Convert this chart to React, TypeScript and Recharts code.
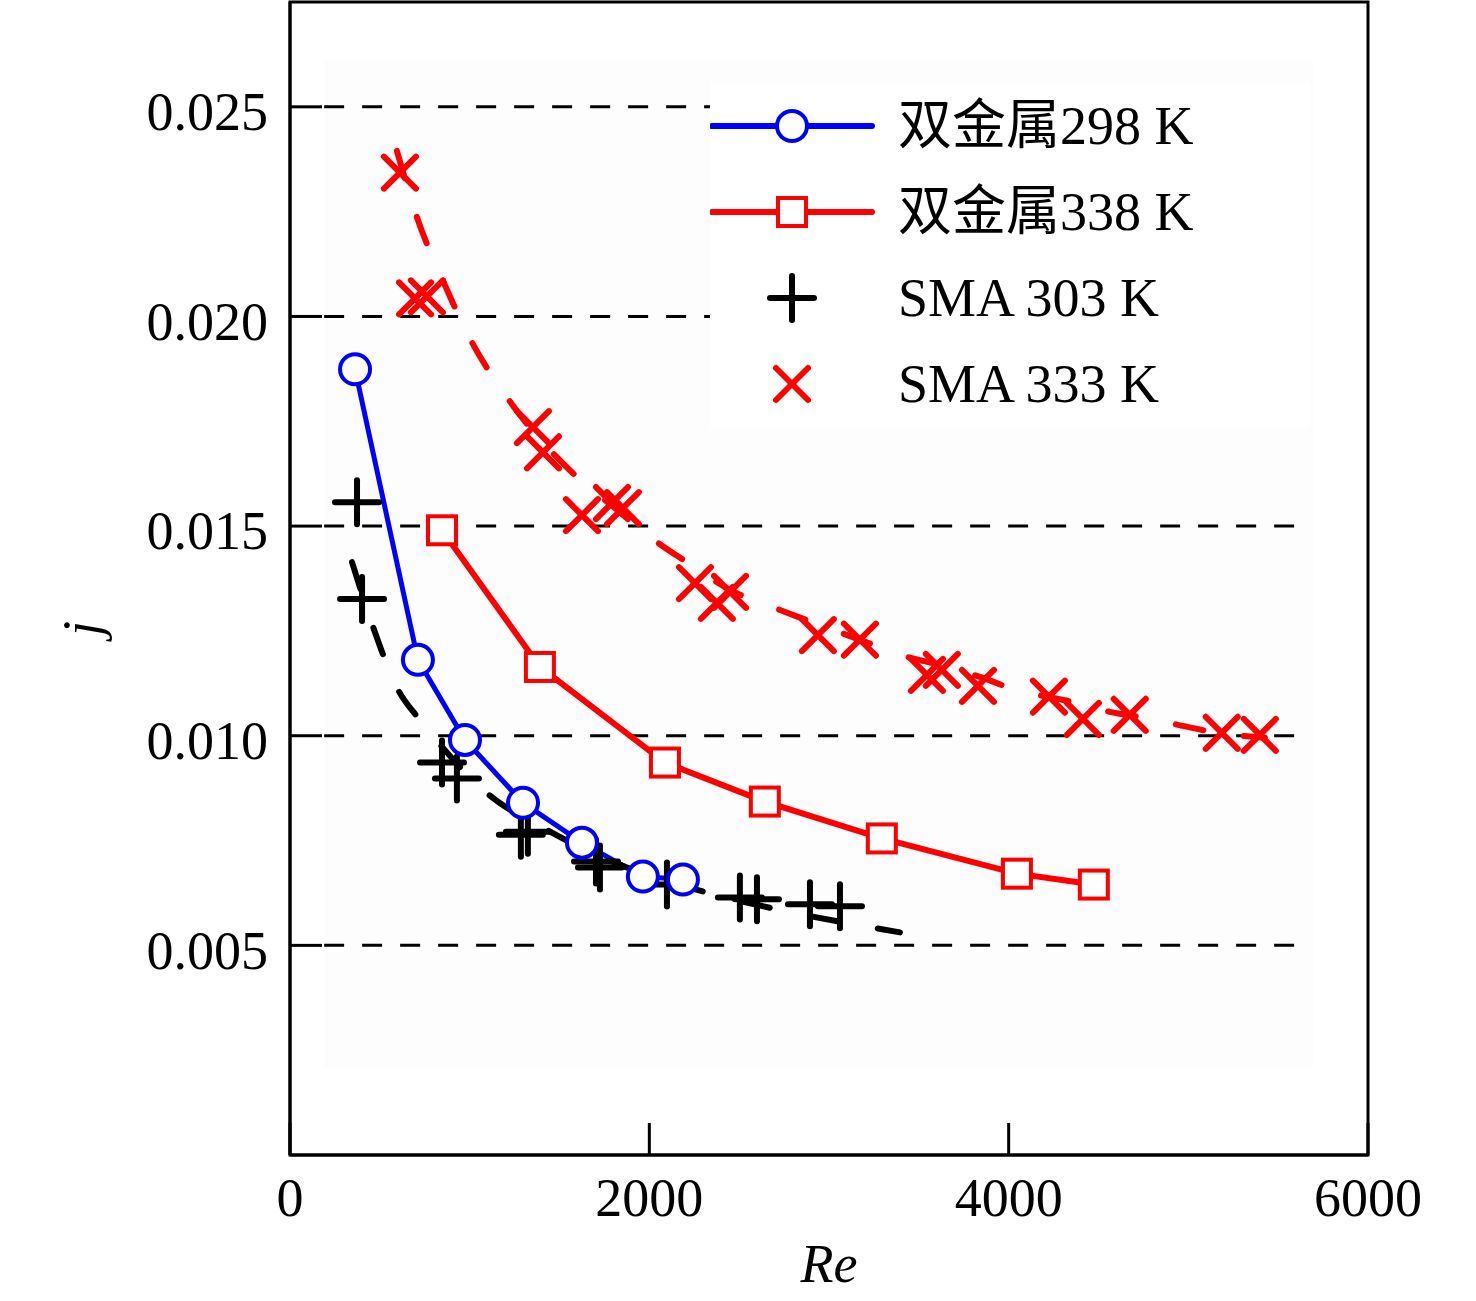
import React from "react";
import {
  ComposedChart,
  Line,
  Scatter,
  XAxis,
  YAxis,
  ReferenceLine,
  ReferenceArea,
  Legend,
  Label,
} from "recharts";

// 双金属 298 K (blue circles, solid line)
const bi298Re = [362, 712, 974, 1297, 1625, 1964, 2187];
const bi298J = [0.01874, 0.01181, 0.0099, 0.0084, 0.00745, 0.00664, 0.00657];

// 双金属 338 K (red squares, solid line)
const bi338Re = [846, 1391, 2087, 2643, 3294, 4046, 4474];
const bi338J = [0.0149, 0.01164, 0.00936, 0.00843, 0.00755, 0.00671, 0.00645];

// SMA 303 K (black plus markers)
const sma303Re = [373, 401, 846, 929, 1285, 1324, 1703, 1725, 2098, 2504, 2599, 2894, 3061];
const sma303J = [0.01557, 0.01326, 0.00936, 0.00898, 0.00764, 0.00771, 0.007, 0.00686, 0.00645, 0.00614, 0.0061, 0.00598, 0.00593];

// SMA 303 K dashed trend line
const sma303FitRe = [345, 462, 601, 712, 835, 1085, 1447, 1948, 2321, 2710, 3077, 3395];
const sma303FitJ = [0.01414, 0.0126, 0.0111, 0.01043, 0.00979, 0.00867, 0.00771, 0.00674, 0.00626, 0.00586, 0.00555, 0.00531];

// SMA 333 K (red x markers)
const sma333Re = [612, 696, 762, 1352, 1408, 1625, 1792, 1853, 2254, 2376, 2449, 2938, 3172, 3545, 3628, 3829, 4224, 4413, 4674, 5186, 5398];
const sma333J = [0.02343, 0.02043, 0.02048, 0.01736, 0.01676, 0.01526, 0.01555, 0.01543, 0.01364, 0.01317, 0.01343, 0.0124, 0.01229, 0.01145, 0.01157, 0.01119, 0.01093, 0.0104, 0.0105, 0.01007, 0.01002];

// SMA 333 K dashed trend line
const sma333FitRe = [595, 707, 851, 1013, 1208, 1575, 1809, 2042, 2209, 2449, 2727, 2905, 3172, 3450, 3617, 3856, 4007, 4246, 4380, 4563, 4758, 4942, 5159, 5426];
const sma333FitJ = [0.02395, 0.02236, 0.02086, 0.01938, 0.01807, 0.01626, 0.01543, 0.01462, 0.01414, 0.01348, 0.013, 0.01271, 0.01229, 0.01186, 0.01169, 0.01138, 0.01114, 0.0109, 0.01079, 0.01057, 0.01043, 0.01026, 0.01007, 0.00995];

const xTicks = [0, 2000, 4000, 6000];
const yTicks = [0.005, 0.01, 0.015, 0.02, 0.025];

const legendItems = [
  { name: "双金属298 K", kind: "circle" },
  { name: "双金属338 K", kind: "square" },
  { name: "SMA 303 K", kind: "plus" },
  { name: "SMA 333 K", kind: "cross" },
];

const BLUE = "#0000ff";
const RED = "#ff0000";
const FONT = "'Liberation Serif', 'Times New Roman', 'Noto Sans CJK SC', serif";

const toPts = (xs: number[], ys: number[]) => xs.map((x, i) => ({ x, y: ys[i] }));

const bi298 = toPts(bi298Re, bi298J);
const bi338 = toPts(bi338Re, bi338J);
const sma303 = toPts(sma303Re, sma303J);
const sma303Fit = toPts(sma303FitRe, sma303FitJ);
const sma333 = toPts(sma333Re, sma333J);
const sma333Fit = toPts(sma333FitRe, sma333FitJ);

function PlusMark({ cx, cy, size = 22 }: any) {
  if (cx == null || cy == null) return null;
  return (
    <g stroke="#000" strokeWidth={6} strokeLinecap="round">
      <line x1={cx - size} y1={cy} x2={cx + size} y2={cy} />
      <line x1={cx} y1={cy - size} x2={cx} y2={cy + size} />
    </g>
  );
}

function CrossMark({ cx, cy, size = 16 }: any) {
  if (cx == null || cy == null) return null;
  return (
    <g stroke={RED} strokeWidth={6} strokeLinecap="round">
      <line x1={cx - size} y1={cy - size} x2={cx + size} y2={cy + size} />
      <line x1={cx - size} y1={cy + size} x2={cx + size} y2={cy - size} />
    </g>
  );
}

const squareDot = (p: any) => (
  <rect
    key={`sq-${p.index}`}
    x={p.cx - 14}
    y={p.cy - 14}
    width={28}
    height={28}
    fill="#fff"
    stroke={RED}
    strokeWidth={4}
  />
);

function LegendBox() {
  return (
    <div style={{ background: "#fff", width: 600 }}>
      {legendItems.map((it) => (
        <div key={it.name} style={{ display: "flex", alignItems: "center", height: 86 }}>
          <svg width={188} height={60}>
            {it.kind === "circle" && (
              <g>
                <line x1={2} y1={30} x2={162} y2={30} stroke={BLUE} strokeWidth={6} strokeLinecap="round" />
                <circle cx={82} cy={30} r={15} fill="#fff" stroke={BLUE} strokeWidth={4} />
              </g>
            )}
            {it.kind === "square" && (
              <g>
                <line x1={2} y1={30} x2={162} y2={30} stroke={RED} strokeWidth={6} strokeLinecap="round" />
                <rect x={68} y={16} width={28} height={28} fill="#fff" stroke={RED} strokeWidth={4} />
              </g>
            )}
            {it.kind === "plus" && <PlusMark cx={82} cy={30} />}
            {it.kind === "cross" && <CrossMark cx={82} cy={30} />}
          </svg>
          <span style={{ fontFamily: FONT, fontSize: 54, lineHeight: "86px", whiteSpace: "nowrap", color: "#000" }}>
            {it.name}
          </span>
        </div>
      ))}
    </div>
  );
}

const renderYLabel = (props: any) => {
  const vb = props.viewBox || { x: 140, y: 2, width: 150, height: 1153 };
  const x = vb.x + vb.width - 190;
  const y = vb.y + vb.height / 2 + 50;
  return (
    <text x={x} y={y} transform={`rotate(-90 ${x} ${y})`} textAnchor="middle" fontFamily={FONT} fontStyle="italic" fontSize={54} fill="#000">
      j
    </text>
  );
};

const renderXLabel = (props: any) => {
  const vb = props.viewBox || { x: 290, y: 1155, width: 1078, height: 100 };
  return (
    <text x={vb.x + vb.width / 2} y={vb.y + 127} textAnchor="middle" fontFamily={FONT} fontStyle="italic" fontSize={54} fill="#000">
      Re
    </text>
  );
};

export default function App() {
  const tickStyle = { fontSize: 54, fill: "#000", fontFamily: FONT };
  return (
    <div style={{ position: "absolute", left: 0, top: 0, background: "#fff" }}>
      <ComposedChart width={1476} height={1301} margin={{ top: 2, right: 108, bottom: 46, left: 140 }}>
        <XAxis
          dataKey="x"
          type="number"
          domain={[0, 6000]}
          ticks={xTicks}
          allowDataOverflow
          height={100}
          tick={tickStyle}
          tickSize={-32}
          tickMargin={55}
          stroke="#000"
          strokeWidth={3}
          interval={0}
        >
          <Label content={renderXLabel} />
        </XAxis>
        <YAxis
          type="number"
          domain={[0, 0.0275]}
          ticks={yTicks}
          allowDataOverflow
          width={150}
          tick={{ ...tickStyle, dy: 4 }}
          tickFormatter={(v: number) => v.toFixed(3)}
          tickSize={-32}
          tickMargin={54}
          stroke="#000"
          strokeWidth={3}
          interval={0}
        >
          <Label content={renderYLabel} />
        </YAxis>

        <ReferenceArea x1={195} x2={5693} y1={0.00205} y2={0.0261} fill="#fdfdfd" fillOpacity={1} stroke="none" zIndex={-100} />
        {yTicks.map((t) => (
          <ReferenceLine
            key={t}
            segment={[{ x: 190, y: t }, { x: 5650, y: t }]}
            stroke="#000"
            strokeWidth={3}
            strokeDasharray="20 18"
            zIndex={-50}
          />
        ))}

        <Line
          data={bi298}
          dataKey="y"
          stroke={BLUE}
          strokeWidth={5}
          dot={{ r: 15, fill: "#fff", stroke: BLUE, strokeWidth: 4 }}
          activeDot={false}
          isAnimationActive={false}
          type="linear"
        />
        <Line
          data={bi338}
          dataKey="y"
          stroke={RED}
          strokeWidth={6}
          dot={squareDot}
          activeDot={false}
          isAnimationActive={false}
          type="linear"
        />
        <Line
          data={sma303Fit}
          dataKey="y"
          stroke="#000"
          strokeWidth={6}
          strokeLinecap="round"
          strokeDasharray="28 41"
          dot={false}
          activeDot={false}
          isAnimationActive={false}
          type="monotone"
        />
        <Line
          data={sma333Fit}
          dataKey="y"
          stroke={RED}
          strokeWidth={6}
          strokeLinecap="round"
          strokeDasharray="28 41"
          dot={false}
          activeDot={false}
          isAnimationActive={false}
          type="monotone"
        />
        <Scatter data={sma303} dataKey="y" shape={(p: any) => <PlusMark cx={p.cx} cy={p.cy} />} isAnimationActive={false} />
        <Scatter data={sma333} dataKey="y" shape={(p: any) => <CrossMark cx={p.cx} cy={p.cy} />} isAnimationActive={false} />

        <ReferenceArea x1={0} x2={6000} y1={0} y2={0.0275} fill="none" stroke="#000" strokeWidth={3} zIndex={500} />

        <Legend
          layout="vertical"
          align="center"
          verticalAlign="middle"
          content={() => <LegendBox />}
          wrapperStyle={{ left: 710, top: 83, width: 600, height: 344 }}
        />
      </ComposedChart>
    </div>
  );
}
